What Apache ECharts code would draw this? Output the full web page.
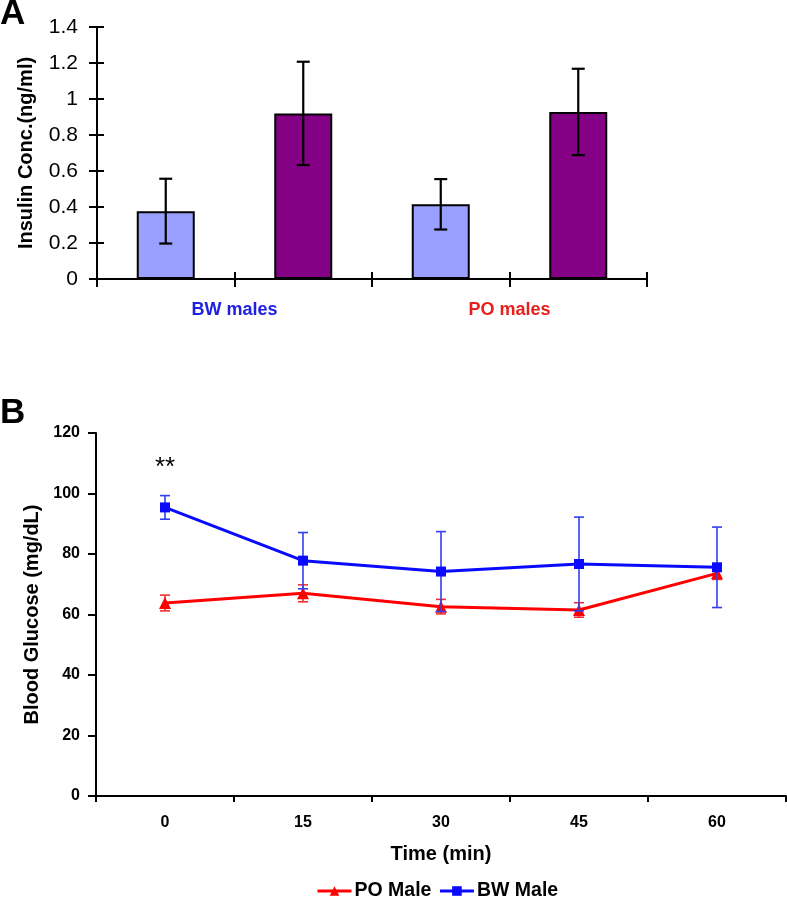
<!DOCTYPE html>
<html>
<head>
<meta charset="utf-8">
<script src="https://cdn.jsdelivr.net/npm/echarts@6/dist/echarts.min.js"></script>
<style>
html,body{margin:0;padding:0;background:#fff;}
#c{width:787px;height:899px;}
</style>
</head>
<body>
<div id="c"></div>
<script>
// ---- Panel A data ----
const barSlots = ["BW-1", "BW-2", "PO-1", "PO-2"];
const groupLabels = ["BW males", "PO males"];
const insulinMean = [0.377, 0.92, 0.415, 0.928];
const insulinErr = [0.18, 0.287, 0.14, 0.24];
const insulinTicks = [0, 0.2, 0.4, 0.6, 0.8, 1, 1.2, 1.4];

// ---- Panel B data ----
const timePoints = ["0", "15", "30", "45", "60"];
const poMale = [63.8, 67.0, 62.6, 61.5, 73.6];
const poMaleErr = [2.6, 2.8, 2.4, 2.4, 2.0];
const bwMale = [95.4, 77.8, 74.2, 76.7, 75.6];
const bwMaleErr = [3.9, 9.3, 13.2, 15.5, 13.3];
const glucoseTicks = [0, 20, 40, 60, 80, 100, 120];

const FONT = "Liberation Sans, Arial, Helvetica, sans-serif";
const chart = echarts.init(document.getElementById('c'), null, {renderer: 'canvas'});

function errRender(color, lw, hw) {
  return function (params, api) {
    const x = api.value(0), m = api.value(1), e = api.value(2);
    const t = api.coord([x, m + e]);
    const b = api.coord([x, m - e]);
    const st = {stroke: color, lineWidth: lw};
    return {
      type: 'group',
      children: [
        {type: 'line', shape: {x1: t[0], y1: t[1], x2: b[0], y2: b[1]}, style: st},
        {type: 'line', shape: {x1: t[0] - hw, y1: t[1], x2: t[0] + hw, y2: t[1]}, style: st},
        {type: 'line', shape: {x1: b[0] - hw, y1: b[1], x2: b[0] + hw, y2: b[1]}, style: st}
      ]
    };
  };
}

const barColors = ['#9aa0ff', '#840084'];
const axisBlack = {lineStyle: {color: '#000', width: 2}};

const option = {
  animation: false,
  backgroundColor: '#fff',
  textStyle: {fontFamily: FONT},
  title: [
    {text: 'A', left: 0, top: -3, padding: 0, textStyle: {fontSize: 35, fontWeight: 'bold', color: '#000', fontFamily: FONT}},
    {text: 'B', left: 0, top: 396, padding: 0, textStyle: {fontSize: 35, fontWeight: 'bold', color: '#000', fontFamily: FONT}}
  ],
  grid: [
    {left: 97, top: 27, width: 550, height: 252, containLabel: false},
    {left: 96, top: 433, width: 690, height: 363, containLabel: false}
  ],
  xAxis: [
    {gridIndex: 0, type: 'category', data: barSlots, position: 'bottom',
      axisLine: axisBlack, axisTick: {show: true, length: 8, lineStyle: {color: '#000', width: 2}},
      axisLabel: {show: false}, splitLine: {show: false}},
    {gridIndex: 0, type: 'category', data: barSlots, position: 'bottom',
      axisLine: {show: false}, axisTick: {show: true, inside: true, length: 7, lineStyle: {color: '#000', width: 2}},
      axisLabel: {show: false}, splitLine: {show: false}},
    {gridIndex: 0, type: 'category', data: groupLabels, position: 'bottom',
      axisLine: {show: false}, axisTick: {show: false}, splitLine: {show: false},
      axisLabel: {show: true, margin: 22, fontSize: 18, fontWeight: 'bold', fontFamily: FONT,
        formatter: function (v, i) { return i === 0 ? '{b|' + v + '}' : '{r|' + v + '}'; },
        rich: {b: {color: '#2020e0', fontSize: 18, fontWeight: 'bold', fontFamily: FONT},
               r: {color: '#e8201c', fontSize: 18, fontWeight: 'bold', fontFamily: FONT}}}},
    {gridIndex: 1, type: 'category', data: timePoints, position: 'bottom',
      name: 'Time (min)', nameLocation: 'middle', nameGap: 48,
      nameTextStyle: {fontSize: 20, fontWeight: 'bold', color: '#000', fontFamily: FONT},
      axisLine: axisBlack, axisTick: {show: true, length: 6, lineStyle: {color: '#000', width: 2}},
      axisLabel: {margin: 19, fontSize: 16, fontWeight: 'bold', color: '#000', fontFamily: FONT},
      splitLine: {show: false}}
  ],
  yAxis: [
    {gridIndex: 0, type: 'value', min: 0, max: 1.4, interval: 0.2,
      name: 'Insulin Conc.(ng/ml)', nameLocation: 'middle', nameGap: 61, nameRotate: 90,
      nameTextStyle: {fontSize: 20, fontWeight: 'bold', color: '#000', fontFamily: FONT},
      axisLine: {show: true, lineStyle: {color: '#000', width: 2}},
      axisTick: {show: true, length: 8, lineStyle: {color: '#000', width: 2}},
      axisLabel: {margin: 19, fontSize: 21, color: '#000', fontFamily: FONT,
        formatter: function (v) { const s = insulinTicks.find(t => Math.abs(t - v) < 1e-9); return String(s !== undefined ? s : v); }},
      splitLine: {show: false}},
    {gridIndex: 0, type: 'value', min: 0, max: 1.4, interval: 0.2, position: 'left',
      axisLine: {show: false},
      axisTick: {show: true, inside: true, length: 7, lineStyle: {color: '#000', width: 2}},
      axisLabel: {show: false}, splitLine: {show: false}},
    {gridIndex: 1, type: 'value', min: 0, max: 120, interval: 20,
      name: 'Blood Glucose (mg/dL)', nameLocation: 'middle', nameGap: 53, nameRotate: 90,
      nameTextStyle: {fontSize: 20, fontWeight: 'bold', color: '#000', fontFamily: FONT},
      axisLine: {show: true, lineStyle: {color: '#000', width: 2}},
      axisTick: {show: true, length: 8, lineStyle: {color: '#000', width: 2}},
      axisLabel: {margin: 16, fontSize: 16, fontWeight: 'bold', color: '#000', fontFamily: FONT},
      splitLine: {show: false}}
  ],
  legend: {
    data: [
      {name: 'PO Male', lineStyle: {width: 3, color: '#ff0000'}},
      {name: 'BW Male', lineStyle: {width: 3, color: '#0a0aff'}}
    ],
    left: 311, top: 876, itemWidth: 34, itemHeight: 12, itemGap: 7,
    textStyle: {fontSize: 19.5, fontWeight: 'bold', color: '#000', fontFamily: FONT, padding: [0, 0, 0, -2]}
  },
  series: [
    {type: 'bar', name: 'Insulin', xAxisIndex: 0, yAxisIndex: 0, barWidth: 58,
      data: insulinMean.map((v, i) => ({value: v, itemStyle: {color: barColors[i % 2]}})),
      itemStyle: {borderColor: '#000', borderWidth: 2}, z: 2},
    {type: 'custom', name: 'InsulinErr', xAxisIndex: 0, yAxisIndex: 0,
      renderItem: errRender('#000', 2.2, 6.5),
      data: insulinMean.map((v, i) => [i, v, insulinErr[i]]), z: 5},
    {type: 'custom', name: 'PO Male err', xAxisIndex: 3, yAxisIndex: 2,
      renderItem: errRender('#f03030', 1.6, 5),
      data: poMale.map((v, i) => [i, v, poMaleErr[i]]), z: 3},
    {type: 'line', name: 'PO Male', xAxisIndex: 3, yAxisIndex: 2,
      data: poMale, symbol: 'triangle', symbolSize: 12, showAllSymbol: true,
      lineStyle: {color: '#ff0000', width: 3}, itemStyle: {color: '#ff0000'}, z: 4},
    {type: 'custom', name: 'BW Male err', xAxisIndex: 3, yAxisIndex: 2,
      renderItem: errRender('#3040f0', 1.6, 5),
      data: bwMale.map((v, i) => [i, v, bwMaleErr[i]]), z: 5},
    {type: 'line', name: 'BW Male', xAxisIndex: 3, yAxisIndex: 2,
      data: bwMale, symbol: 'rect', symbolSize: 10, showAllSymbol: true,
      lineStyle: {color: '#0a0aff', width: 3}, itemStyle: {color: '#0a0aff'}, z: 6,
      markPoint: {
        symbol: 'circle', symbolSize: 1, itemStyle: {color: 'rgba(0,0,0,0)'},
        label: {show: true, position: 'inside', formatter: '**', fontSize: 26, color: '#000', fontFamily: FONT},
        data: [{coord: [0, 108.5]}]
      }}
  ]
};
chart.setOption(option);
</script>
</body>
</html>
